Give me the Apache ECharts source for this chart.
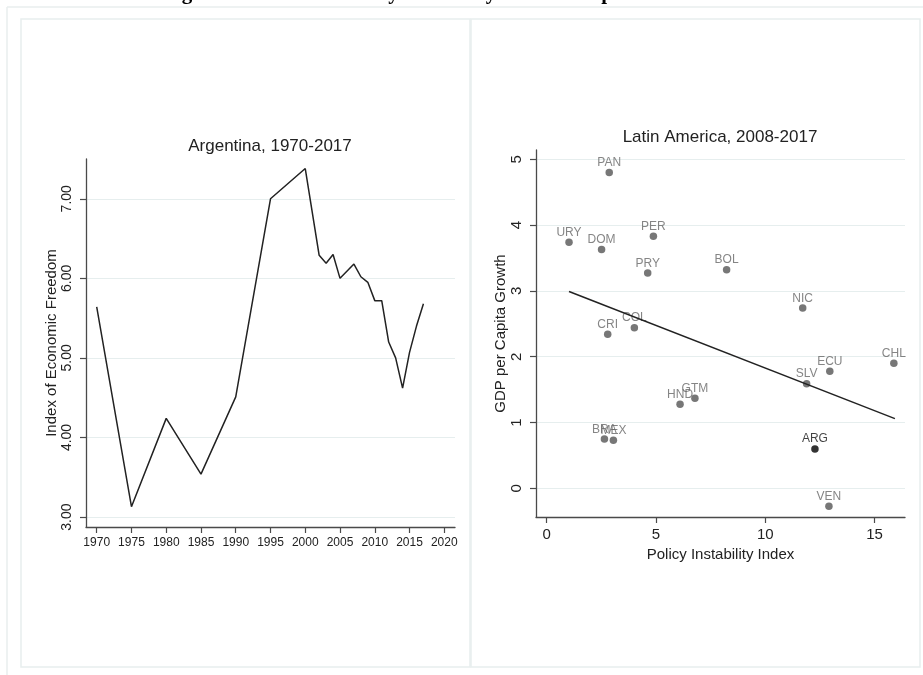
<!DOCTYPE html>
<html>
<head>
<meta charset="utf-8">
<script src="https://cdn.jsdelivr.net/npm/echarts@6/dist/echarts.min.js"></script>
<style>
  html, body { margin: 0; padding: 0; background: #ffffff; }
  #chart { width: 923px; height: 675px; }
</style>
</head>
<body>
<div id="chart"></div>
<script>
// Argentina: Index of Economic Freedom by year
const years = [1970, 1975, 1980, 1985, 1990, 1995, 2000, 2002, 2003, 2004, 2005, 2007, 2008, 2009, 2010, 2011, 2012, 2013, 2014, 2015, 2016, 2017];
const freedomIndex = [5.64, 3.13, 4.24, 3.54, 4.51, 7.00, 7.38, 6.29, 6.19, 6.30, 6.00, 6.18, 6.02, 5.95, 5.72, 5.72, 5.20, 5.00, 4.62, 5.07, 5.40, 5.68];
const yearTicks = [1970, 1975, 1980, 1985, 1990, 1995, 2000, 2005, 2010, 2015, 2020];
const freedomTicks = [3, 4, 5, 6, 7];

// Latin America, 2008-2017: policy instability vs. GDP per capita growth
const countryCodes = ['PAN', 'URY', 'DOM', 'PER', 'PRY', 'BOL', 'NIC', 'CRI', 'COL', 'CHL', 'ECU', 'SLV', 'GTM', 'HND', 'BRA', 'MEX', 'ARG', 'VEN'];
const instability = [2.86, 1.02, 2.51, 4.88, 4.62, 8.23, 11.71, 2.79, 4.01, 15.88, 12.95, 11.89, 6.78, 6.10, 2.64, 3.05, 12.27, 12.91];
const gdpGrowth = [4.80, 3.74, 3.63, 3.83, 3.27, 3.32, 2.74, 2.34, 2.44, 1.90, 1.78, 1.59, 1.37, 1.28, 0.75, 0.73, 0.60, -0.27];
const instabilityTicks = [0, 5, 10, 15];
const growthTicks = [0, 1, 2, 3, 4, 5];
// fitted linear trend, endpoints
const fitX = [1.02, 15.93];
const fitY = [2.99, 1.06];

const FONT = '"Liberation Sans", Arial, Helvetica, sans-serif';
const INK = '#222222';
const AXIS = '#4a4a4a';
const GRID = '#e6eeee';
const FRAME = '#e8eeee';

const lineData = years.map((y, i) => [y, freedomIndex[i]]);
const scatterData = countryCodes.map((c, i) => {
  const isArg = c === 'ARG';
  return {
    name: c,
    value: [instability[i], gdpGrowth[i]],
    itemStyle: { color: isArg ? '#000000' : '#555555' },
    label: { color: isArg ? '#111111' : '#666666' }
  };
});
const fitData = fitX.map((x, i) => [x, fitY[i]]);

function valueAxisX(gridIndex, min, max, ticks, fontSize, extra) {
  return Object.assign({
    type: 'value', gridIndex, min, max,
    axisLine: { show: true, onZero: false, lineStyle: { color: AXIS, width: 1.3 } },
    axisTick: { show: true, customValues: ticks, length: 6, lineStyle: { color: AXIS, width: 1.2 } },
    axisLabel: { customValues: ticks, margin: 10, fontSize, color: INK, fontFamily: FONT, formatter: v => String(v) },
    splitLine: { show: false }
  }, extra || {});
}

function valueAxisY(gridIndex, min, max, ticks, fontSize, fmt, name) {
  return {
    type: 'value', gridIndex, min, max,
    name, nameLocation: 'middle', nameGap: 27,
    nameTextStyle: { fontSize: 15, color: INK, fontFamily: FONT },
    axisLine: { show: true, onZero: false, lineStyle: { color: AXIS, width: 1.3 } },
    axisTick: { show: true, customValues: ticks, length: 6, lineStyle: { color: AXIS, width: 1.2 } },
    axisLabel: { customValues: ticks, rotate: 90, margin: 12, fontSize, color: INK, fontFamily: FONT, formatter: fmt },
    splitLine: { show: true, lineStyle: { color: GRID, width: 1.2 } }
  };
}

const chart = echarts.init(document.getElementById('chart'), null, { renderer: 'canvas' });

chart.setOption({
  animation: false,
  backgroundColor: '#ffffff',
  graphic: [
    // page frame and panel borders
    { type: 'line', shape: { x1: 7, y1: 7, x2: 923, y2: 7 }, style: { stroke: FRAME, lineWidth: 1.5 }, silent: true },
    { type: 'line', shape: { x1: 7, y1: 7, x2: 7, y2: 675 }, style: { stroke: FRAME, lineWidth: 1.5 }, silent: true },
    { type: 'rect', shape: { x: 21, y: 19, width: 449, height: 648 }, style: { fill: 'none', stroke: FRAME, lineWidth: 1.5 }, silent: true },
    { type: 'rect', shape: { x: 471, y: 19, width: 449, height: 648 }, style: { fill: 'none', stroke: FRAME, lineWidth: 1.5 }, silent: true },
    // figure caption
    { type: 'text', x: 163, y: -6, silent: true,
      style: { text: 'Figure 2: Economic Policy Instability and Development', font: 'bold 21px "Liberation Serif", "Times New Roman", serif', fill: '#000000', textAlign: 'left', verticalAlign: 'middle' } },
    // panel titles
    { type: 'text', x: 270, y: 146, silent: true,
      style: { text: 'Argentina, 1970-2017', font: '17px ' + FONT, fill: INK, textAlign: 'center', verticalAlign: 'middle' } },
    { type: 'text', x: 720, y: 137, silent: true,
      style: { text: 'Latin America, 2008-2017', font: '17px ' + FONT, fill: INK, textAlign: 'center', verticalAlign: 'middle' } }
  ],
  grid: [
    { left: 86, top: 159, width: 369, height: 368 },
    { left: 536, top: 150, width: 369, height: 367 }
  ],
  xAxis: [
    valueAxisX(0, 1968.46, 2021.54, yearTicks, 12),
    valueAxisX(1, -0.49, 16.39, instabilityTicks, 15, {
      name: 'Policy Instability Index', nameLocation: 'middle', nameGap: 27,
      nameTextStyle: { fontSize: 15, color: INK, fontFamily: FONT }
    })
  ],
  yAxis: [
    valueAxisY(0, 2.875, 7.5, freedomTicks, 14, v => v.toFixed(2), 'Index of Economic Freedom'),
    valueAxisY(1, -0.434, 5.14, growthTicks, 15, v => String(v), 'GDP per Capita Growth')
  ],
  series: [
    {
      type: 'line', xAxisIndex: 0, yAxisIndex: 0, data: lineData,
      showSymbol: false, symbol: 'none',
      lineStyle: { color: INK, width: 1.5 }
    },
    {
      type: 'line', xAxisIndex: 1, yAxisIndex: 1, data: fitData,
      showSymbol: false, symbol: 'none',
      lineStyle: { color: INK, width: 1.5 }
    },
    {
      type: 'scatter', xAxisIndex: 1, yAxisIndex: 1, data: scatterData,
      symbol: 'circle', symbolSize: 7.5,
      label: {
        show: true, position: 'top', distance: 0,
        formatter: p => p.name, fontSize: 12, fontFamily: FONT
      }
    }
  ]
});
</script>
</body>
</html>
